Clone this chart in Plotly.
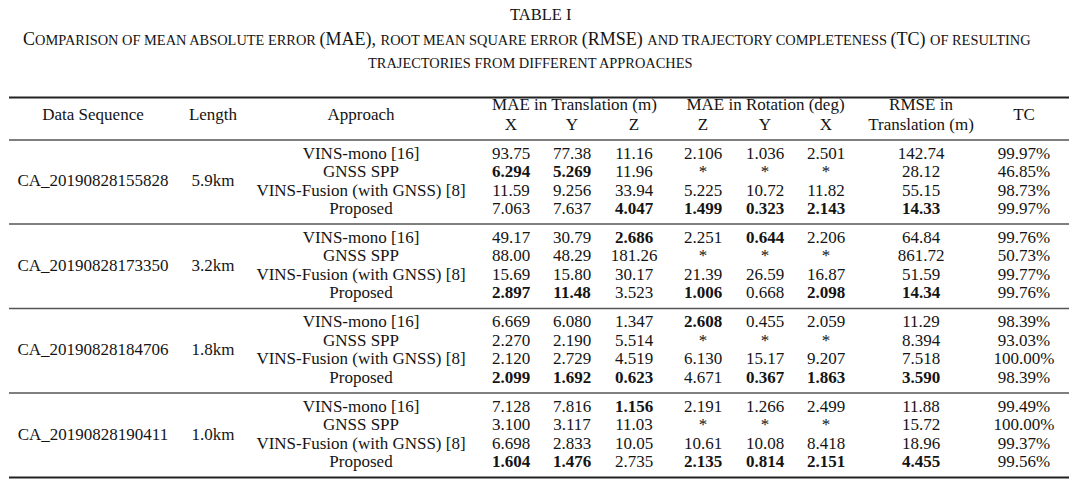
import plotly.graph_objects as go

# ---------------- data ----------------
sequences = ["CA_20190828155828", "CA_20190828173350", "CA_20190828184706", "CA_20190828190411"]
lengths = ["5.9km", "3.2km", "1.8km", "1.0km"]
approaches = ["VINS-mono [16]", "GNSS SPP", "VINS-Fusion (with GNSS) [8]", "Proposed"]

mae_trans_x = [93.75, 6.294, 11.59, 7.063, 49.17, 88.00, 15.69, 2.897,
               6.669, 2.270, 2.120, 2.099, 7.128, 3.100, 6.698, 1.604]
mae_trans_y = [77.38, 5.269, 9.256, 7.637, 30.79, 48.29, 15.80, 11.48,
               6.080, 2.190, 2.729, 1.692, 7.816, 3.117, 2.833, 1.476]
mae_trans_z = [11.16, 11.96, 33.94, 4.047, 2.686, 181.26, 30.17, 3.523,
               1.347, 5.514, 4.519, 0.623, 1.156, 11.03, 10.05, 2.735]
mae_rot_z = [2.106, None, 5.225, 1.499, 2.251, None, 21.39, 1.006,
             2.608, None, 6.130, 4.671, 2.191, None, 10.61, 2.135]
mae_rot_y = [1.036, None, 10.72, 0.323, 0.644, None, 26.59, 0.668,
             0.455, None, 15.17, 0.367, 1.266, None, 10.08, 0.814]
mae_rot_x = [2.501, None, 11.82, 2.143, 2.206, None, 16.87, 2.098,
             2.059, None, 9.207, 1.863, 2.499, None, 8.418, 2.151]
rmse_trans = [142.74, 28.12, 55.15, 14.33, 64.84, 861.72, 51.59, 14.34,
              11.29, 8.394, 7.518, 3.590, 11.88, 15.72, 18.96, 4.455]
tc = [99.97, 46.85, 98.73, 99.97, 99.76, 50.73, 99.77, 99.76,
      98.39, 93.03, 100.00, 98.39, 99.49, 100.00, 99.37, 99.56]

# ---------------- layout constants ----------------
W, H = 1080, 486
FONT = "Liberation Serif"
FS = 17
INK = "#141414"
col_x = {"seq": 93, "len": 213, "app": 361, "tx": 511, "ty": 572, "tz": 634,
         "rz": 703, "ry": 765, "rx": 826, "rmse": 921, "tc": 1024}
y_top, y_head, y_bottom = 97.5, 140, 477.5
group_lines = [224, 308.5, 393]
row_step = 18.5


def fmt(v):
    if v is None:
        return "*"
    return f"{v:.2f}" if v >= 10 else f"{v:.3f}"


n_groups = len(sequences)
n_app = len(approaches)
bands = [y_head] + group_lines + [y_bottom]

xs, ys, texts = [], [], []
for g in range(n_groups):
    yc = (bands[g] + bands[g + 1]) / 2
    xs += [col_x["seq"], col_x["len"]]
    ys += [yc, yc]
    texts += [sequences[g], lengths[g]]
    for a in range(n_app):
        i = g * n_app + a
        yr = yc + (a - (n_app - 1) / 2) * row_step
        xs.append(col_x["app"]); ys.append(yr); texts.append(approaches[a])
        for key, arr in [("tx", mae_trans_x), ("ty", mae_trans_y), ("tz", mae_trans_z),
                         ("rz", mae_rot_z), ("ry", mae_rot_y), ("rx", mae_rot_x),
                         ("rmse", rmse_trans)]:
            grp = [v for v in arr[g * n_app:(g + 1) * n_app] if v is not None]
            v = arr[i]
            s = fmt(v)
            if v is not None and v == min(grp):
                s = f"<b>{s}</b>"
            xs.append(col_x[key]); ys.append(yr); texts.append(s)
        xs.append(col_x["tc"]); ys.append(yr); texts.append(f"{tc[i]:.2f}%")

# header cells
hx = [col_x["seq"], col_x["len"], col_x["app"], (col_x["tx"] + col_x["tz"]) / 2 + 2,
      col_x["tx"], col_x["ty"], col_x["tz"], (col_x["rz"] + col_x["rx"]) / 2 + 1,
      col_x["rz"], col_x["ry"], col_x["rx"], col_x["rmse"], col_x["rmse"], col_x["tc"]]
hy = [116, 116, 116, 106, 125.5, 125.5, 125.5, 106, 125.5, 125.5, 125.5, 106, 125.5, 116]
ht = ["Data Sequence", "Length", "Approach", "MAE in Translation (m)", "X", "Y", "Z",
      "MAE in Rotation (deg)", "Z", "Y", "X", "RMSE in", "Translation (m)", "TC"]

fig = go.Figure()
fig.add_trace(go.Scatter(x=xs + hx, y=ys + hy, text=texts + ht, mode="text",
                         textposition="middle center", hoverinfo="skip",
                         textfont=dict(family=FONT, size=FS, color=INK),
                         showlegend=False))

shapes = [
    dict(type="line", x0=9, x1=1069, y0=y_top, y1=y_top, line=dict(color="#222", width=2)),
    dict(type="line", x0=9, x1=1069, y0=y_head, y1=y_head, line=dict(color="#555", width=1.3)),
    dict(type="line", x0=9, x1=1069, y0=y_bottom, y1=y_bottom, line=dict(color="#222", width=2.2)),
]
for gy in group_lines:
    shapes.append(dict(type="line", x0=9, x1=1069, y0=gy, y1=gy,
                       line=dict(color="#555", width=1.6)))
for s in shapes:
    s.update(xref="x", yref="y")

sc = "<span style='font-size:14.4px'>"
sub1 = (f"C{sc}OMPARISON OF MEAN ABSOLUTE ERROR </span>(MAE), "
        f"{sc}ROOT MEAN SQUARE ERROR </span>(RMSE) "
        f"{sc}AND TRAJECTORY COMPLETENESS </span>(TC) "
        f"{sc}OF RESULTING</span>")
sub2 = f"{sc}TRAJECTORIES FROM DIFFERENT APPROACHES</span>"

annotations = [
    dict(x=540, y=14, text="TABLE I", font=dict(size=16.5, family=FONT, color=INK)),
    dict(x=527, y=39.5, text=sub1, font=dict(size=18, family=FONT, color=INK)),
    dict(x=530, y=63, text=sub2, font=dict(size=18, family=FONT, color=INK)),
]
for a in annotations:
    a.update(xref="x", yref="y", showarrow=False, xanchor="center", yanchor="middle")

fig.update_layout(
    width=W, height=H, margin=dict(l=0, r=0, t=0, b=0),
    paper_bgcolor="white", plot_bgcolor="white",
    xaxis=dict(range=[0, W], visible=False, fixedrange=True),
    yaxis=dict(range=[H, 0], visible=False, fixedrange=True),
    shapes=shapes, annotations=annotations,
)
fig.write_html("out.html", config={"displayModeBar": False},
               post_script="document.body.style.margin='0px';")
